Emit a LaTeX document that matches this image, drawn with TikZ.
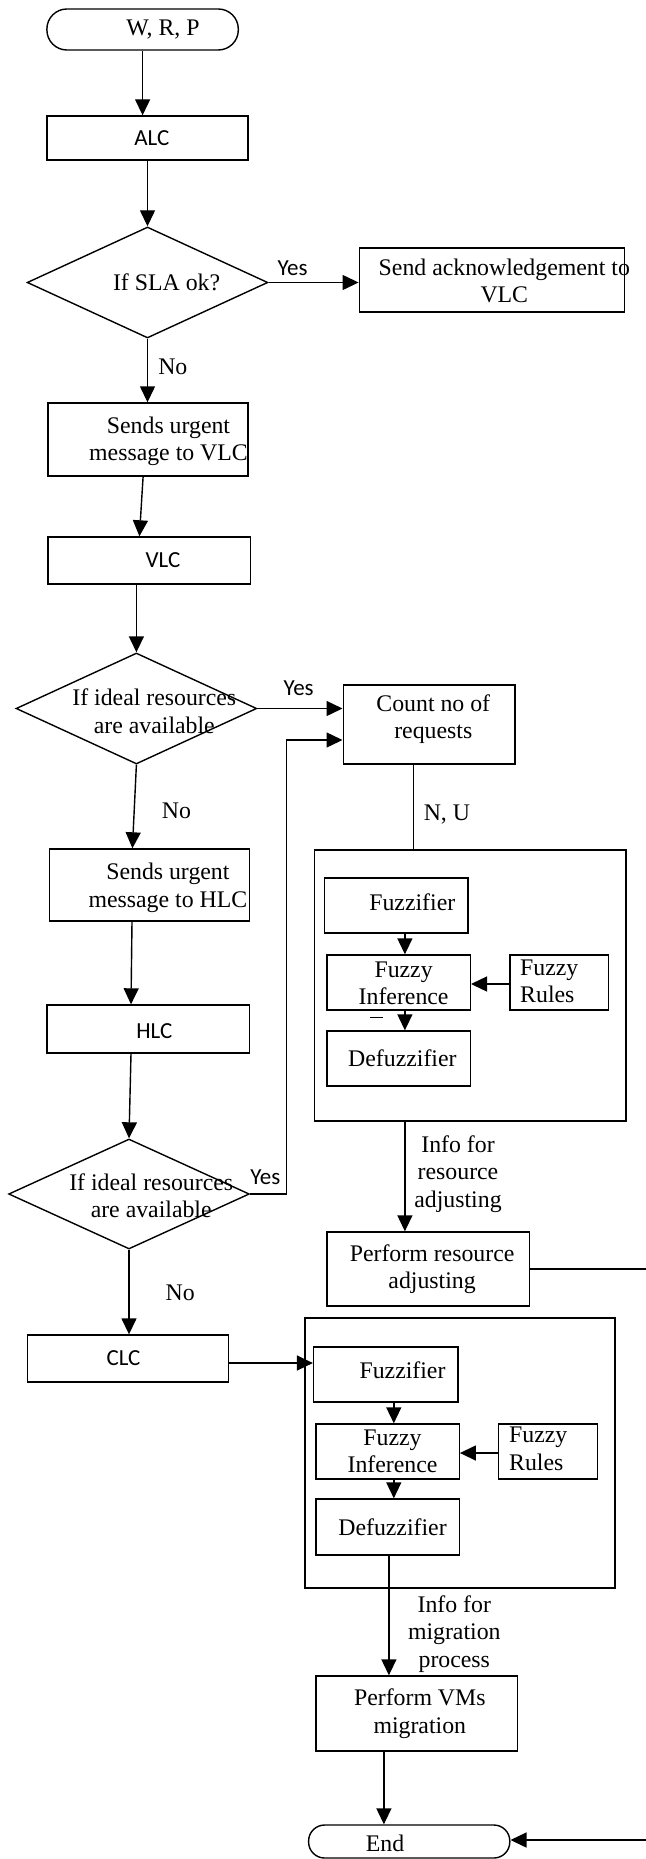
\documentclass[tikz,border=0pt]{standalone}
\usepackage{fontspec}
\setmainfont{Liberation Serif}
\newfontfamily\calfont{Carlito}
\usetikzlibrary{shapes.geometric,arrows.meta}
\begin{document}
\begin{tikzpicture}[x=1pt,y=-1pt,
  line width=1.4pt,
  every node/.style={font=\fontsize{23.8}{27.5}\selectfont},
  box/.style={draw, rectangle, inner sep=0pt},
  dia/.style={draw, diamond, inner sep=0pt},
  term/.style={draw, rectangle, rounded corners=16pt, inner sep=0pt},
  txt/.style={align=center, inner sep=0pt},
  txl/.style={align=left, inner sep=0pt},
  sans/.style={font=\calfont\fontsize{23}{27}\selectfont, inner sep=0pt},
  arr/.style={-{Triangle[length=16pt,width=15pt]}},
]
\useasboundingbox (0,0) rectangle (645,1859);

% left column
\node[term, rounded corners=20pt, minimum width=191.4pt, minimum height=41pt,
  label={[txt,xshift=20.4pt]center:{W, R, P}}] (start) at (142.6,29.5) {};
\node[box, minimum width=201.2pt, minimum height=44pt,
  label={[sans,xshift=4.3pt]center:{ALC}}] (alc) at (147.5,138) {};
\node[dia, minimum width=240.7pt, minimum height=111pt,
  label={[txt,xshift=19.1pt]center:{If SLA ok?}}] (d1) at (147.5,282.5) {};
\node[box, minimum width=265.5pt, minimum height=64pt,
  label={[txt,xshift=12.3pt,yshift=-1pt]center:{Send acknowledgement to\\VLC}}] (ack) at (492,280) {};
\node[box, minimum width=200pt, minimum height=73pt,
  label={[txt,xshift=20.4pt,yshift=-2pt]center:{Sends urgent\\message to VLC}}] (su1) at (148.1,439.5) {};
\node[box, minimum width=202.5pt, minimum height=47pt,
  label={[sans,xshift=13.6pt]center:{VLC}}] (vlc) at (149.4,560.5) {};
\node[dia, minimum width=240.7pt, minimum height=111pt,
  label={[txt,xshift=17.9pt,yshift=-2.5pt]center:{If ideal resources\\are available}}] (d2) at (136.4,708.5) {};
\node[box, minimum width=171.6pt, minimum height=79pt,
  label={[txt,xshift=4.3pt,yshift=5.5pt]center:{Count no of\\requests}}] (count) at (429,724.5) {};
\node[box, minimum width=200pt, minimum height=72pt,
  label={[txt,xshift=18.5pt,yshift=-3pt]center:{Sends urgent\\message to HLC}}] (su2) at (149.4,885) {};
\node[box, minimum width=202.5pt, minimum height=48pt,
  label={[sans,xshift=6.2pt,yshift=-2pt]center:{HLC}}] (hlc) at (148.1,1029) {};
\node[dia, minimum width=240.7pt, minimum height=110pt,
  label={[txt,xshift=22.2pt,yshift=-1.5pt]center:{If ideal resources\\are available}}] (d3) at (129,1194) {};
\node[box, minimum width=201.2pt, minimum height=47pt,
  label={[sans,xshift=-4.3pt]center:{CLC}}] (clc) at (127.8,1358.5) {};

% first fuzzy block
\node[box, minimum width=311.1pt, minimum height=271pt] (big1) at (470.3,985.5) {};
\node[box, minimum width=143.2pt, minimum height=55pt,
  label={[txt,xshift=16pt,yshift=3.5pt]center:{Fuzzifier}}] (fz1) at (396.3,905.5) {};
\node[box, minimum width=143.2pt, minimum height=55pt,
  label={[txt,xshift=4.9pt,yshift=-1pt]center:{Fuzzy\\Inference}}] (fi1) at (398.7,982.5) {};
\node[box, minimum width=98.8pt, minimum height=55pt,
  label={[txl,xshift=-9.9pt,yshift=1pt]center:{Fuzzy\\Rules}}] (fr1) at (559.2,982.5) {};
\node[box, minimum width=143.2pt, minimum height=55pt,
  label={[txt,xshift=3.7pt]center:{Defuzzifier}}] (df1) at (398.7,1058.5) {};
\node[box, minimum width=202.5pt, minimum height=74pt,
  label={[txt,xshift=3.7pt]center:{Perform resource\\adjusting}}] (pra) at (428.4,1269) {};

% second fuzzy block
\node[box, minimum width=309.9pt, minimum height=270pt] (big2) at (459.9,1453) {};
\node[box, minimum width=144.4pt, minimum height=55pt,
  label={[txt,xshift=16.7pt,yshift=4.5pt]center:{Fuzzifier}}] (fz2) at (385.8,1374.5) {};
\node[box, minimum width=143.2pt, minimum height=55pt,
  label={[txt,xshift=4.9pt]center:{Fuzzy\\Inference}}] (fi2) at (387.6,1451.5) {};
\node[box, minimum width=98.8pt, minimum height=55pt,
  label={[txl,xshift=-9.9pt,yshift=2.5pt]center:{Fuzzy\\Rules}}] (fr2) at (548.1,1451.5) {};
\node[box, minimum width=143.2pt, minimum height=56pt,
  label={[txt,xshift=4.9pt]center:{Defuzzifier}}] (df2) at (387.6,1527) {};
\node[box, minimum width=201.2pt, minimum height=75pt,
  label={[txt,xshift=3.1pt]center:{Perform VMs\\migration}}] (pvm) at (416.7,1713.5) {};
\node[term, minimum width=201.2pt, minimum height=33pt,
  label={[txt,xshift=-24.1pt,yshift=-1.5pt]center:{End}}] (end) at (409.2,1841.5) {};

% edge labels
\node[sans] (yes1) at (292.6,268) {Yes};
\node[sans] (yes2) at (298.7,688) {Yes};
\node[sans] (yes3) at (265.4,1177) {Yes};
\node[txt] (no1) at (172.8,367) {No};
\node[txt] (no2) at (176.5,811) {No};
\node[txt] (no3) at (180.2,1293) {No};
\node[txt] (nu) at (446.9,815) {N, U};
\node[txt] (info1) at (458,1174) {Info for\\resource\\adjusting};
\node[txt] (info2) at (454.3,1634) {Info for\\migration\\process};

\coordinate (loopx) at (286.4,740);
\coordinate (edgeA) at (652,1269);
\coordinate (edgeB) at (652,1840);

% connectors
\draw[arr] (start.south) -- (start.south |- alc.north);
\draw[arr] (alc.south) -- (d1.north);
\draw[arr] (d1.east) -- (d1.east -| ack.west);
\draw[arr] (d1.south) -- (d1.south |- su1.north);
\draw[arr] ([xshift=-5pt]su1.south) -- ([xshift=-10pt]vlc.north);
\draw[arr] (d2.north |- vlc.south) -- (d2.north);
\draw[arr] (d2.east) -- (d2.east -| count.west);
\draw[arr] (d2.south) -- ([xshift=-4pt]d2.south |- su2.north);
\draw[arr] ([xshift=3pt]d3.north |- su2.south) -- ([xshift=2pt]d3.north |- hlc.north);
\draw[arr] ([xshift=2pt]d3.north |- hlc.south) -- (d3.north);
\draw[arr] (d3.east) -| (loopx) -- (loopx -| count.west);
\draw[arr] (d3.south) -- (d3.south |- clc.north);
\draw ([xshift=-15.4pt]count.south) -- ([xshift=-15.4pt]count.south |- big1.north);
\draw[arr] ([xshift=8.6pt]fz1.south) -- ([xshift=8.6pt]fz1.south |- fi1.north);
\draw[arr] ([yshift=-1.5pt]fr1.west) -- ([yshift=-1.5pt]fi1.east);
\draw[arr] ([xshift=6.2pt]fi1.south) -- ([xshift=6.2pt]fi1.south |- df1.north);
\draw[line width=1pt] (370,1017) -- (383,1017);
\draw[arr] ([xshift=-65.4pt]big1.south) -- ([xshift=-65.4pt]big1.south |- pra.north);
\draw[arr] (pra.east) -- (edgeA) -- (edgeB) -- (edgeB -| end.east);
\draw[arr] ([yshift=-4.5pt]clc.east) -- ([yshift=-4.5pt]clc.east -| fz2.west);
\draw[arr] ([xshift=8pt]fz2.south) -- ([xshift=8pt]fz2.south |- fi2.north);
\draw[arr] ([yshift=-1.5pt]fr2.west) -- ([yshift=-1.5pt]fi2.east);
\draw[arr] ([xshift=6.2pt]fi2.south) -- ([xshift=6.2pt]fi2.south |- df2.north);
\draw[arr] ([xshift=1.3pt]df2.south) -- ([xshift=1.3pt]df2.south |- pvm.north);
\draw[arr] ([xshift=-32.8pt]pvm.south) -- ([xshift=-32.8pt]pvm.south |- end.north);
\end{tikzpicture}
\end{document}
